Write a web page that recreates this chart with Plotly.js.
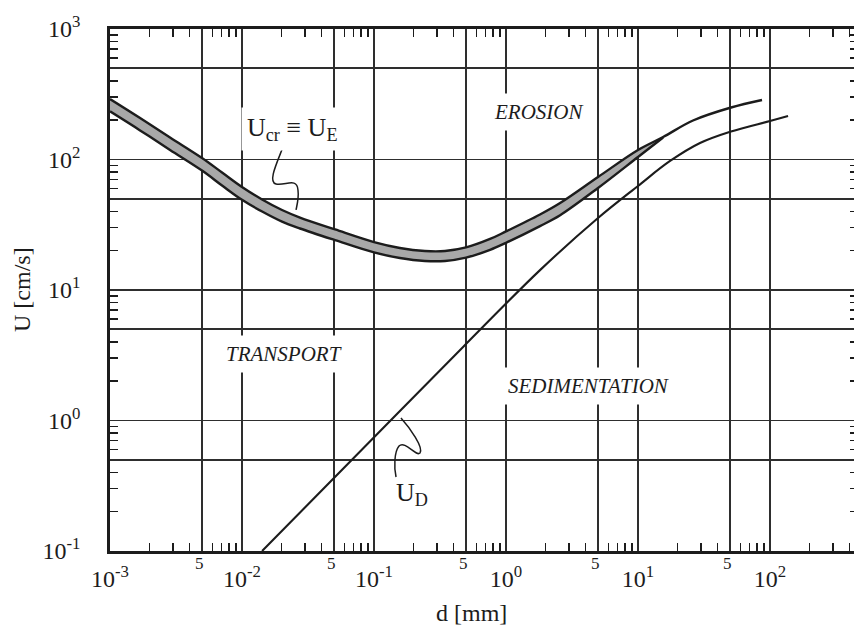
<!DOCTYPE html>
<html><head><meta charset="utf-8">
<script src="https://cdn.plot.ly/plotly-3.0.1.min.js"></script>
<style>html,body{margin:0;padding:0;overflow:hidden;background:#fff}#chart{width:858px;height:627px}</style>
</head><body><div id="chart"></div>
<script>
// Erosion band (U_cr = U_E): grain size d [mm], velocity U [cm/s]
const bandD   = [0.001, 0.00169, 0.00285, 0.00498, 0.00706, 0.01, 0.0142, 0.0201, 0.0275, 0.0507, 0.1, 0.157, 0.243, 0.345, 0.498, 0.757, 1.0, 1.81, 2.57, 4.98, 10.0, 15.5];
const bandTop = [290.8, 208.0, 147.5, 102.7, 79.5, 61.6, 49.4, 41.0, 35.9, 29.1, 23.3, 21.0, 19.9, 19.9, 21.2, 24.6, 28.1, 37.9, 46.4, 73.4, 118.3, 148.7];
const bandBot = [233.7, 167.1, 118.3, 82.2, 63.2, 49.1, 39.9, 33.4, 29.6, 24.1, 19.4, 17.6, 16.7, 16.7, 17.7, 20.3, 23.0, 30.9, 37.4, 60.5, 104.5, 147.5];
const topTailD = [26.1, 50.7, 87.0];
const topTailU = [199.0, 250.3, 285.8];
// Deposition curve U_D
const depD = [0.0142, 0.0489, 0.473, 1.81, 4.98, 10.0, 17.5, 29.5, 50.6, 100, 137];
const depU = [0.1, 0.356, 3.66, 14.2, 35.6, 62.7, 97.4, 133.8, 163.9, 197.2, 215.4];
// Tick values and labels
const xMajor = [0.001, 0.005, 0.01, 0.05, 0.1, 0.5, 1, 5, 10, 50, 100, 500];
const xMajorText = ['10<sup>-3</sup>', '', '10<sup>-2</sup>', '', '10<sup>-1</sup>', '', '10<sup>0</sup>', '', '10<sup>1</sup>', '', '10<sup>2</sup>', ''];
const xFive = [0.005, 0.05, 0.5, 5, 50];
const xFiveText = ['5', '5', '5', '5', '5'];
const yMajor = [0.1, 0.5, 1, 5, 10, 50, 100, 500, 1000];
const yMajorText = ['10<sup>-1</sup>', '', '10<sup>0</sup>', '', '10<sup>1</sup>', '', '10<sup>2</sup>', '', '10<sup>3</sup>'];
const minorMult = [2, 3, 4, 6, 7, 8, 9];

function minorTicks(e0, e1) {
  const out = [];
  for (let e = e0; e < e1; e++) minorMult.forEach(m => out.push(m * Math.pow(10, e)));
  return out;
}

const INK = '#1c1c1c';
const GRID = '#2e2e2e';
const FONT = 'Liberation Serif';

const traces = [
  {x: bandD, y: bandTop, mode: 'lines', line: {width: 0, shape: 'spline', smoothing: 1}, hoverinfo: 'skip', showlegend: false},
  {x: bandD, y: bandBot, mode: 'lines', fill: 'tonexty', fillcolor: '#a8a8a8',
   line: {color: INK, width: 2.4, shape: 'spline', smoothing: 1}, name: 'U_cr lower', showlegend: false},
  {x: bandD.concat(topTailD), y: bandTop.concat(topTailU), mode: 'lines',
   line: {color: INK, width: 2.4, shape: 'spline', smoothing: 1}, name: 'U_cr upper', showlegend: false},
  {x: depD, y: depU, mode: 'lines', line: {color: INK, width: 2.1, shape: 'spline', smoothing: 1}, name: 'U_D', showlegend: false},
  {x: [], y: [], xaxis: 'x2', yaxis: 'y', hoverinfo: 'skip', showlegend: false}
];

// plot-area pixel geometry -> paper coords for decorations
const L = 110, T = 29, W = 748, H = 522;
const px = v => (v - L) / W;
const py = v => 1 - (v - T) / H;
function path(cmds) {
  return cmds.map(c => c[0] + ' ' + c.slice(1).map(p => px(p[0]).toFixed(4) + ',' + py(p[1]).toFixed(4)).join(' ')).join(' ');
}

const xRange = [-3, -3 + W / 132];

const baseAxis = {
  type: 'log', showgrid: true, gridcolor: GRID, gridwidth: 1.7,
  showline: true, linecolor: INK, linewidth: 2.8, mirror: 'allticks',
  ticks: 'inside', ticklen: 0, zeroline: false, fixedrange: true,
  tickfont: {family: FONT, size: 24, color: INK}
};

function label(text, cx, cy, size, bg, pad) {
  const a = {text: text, xref: 'paper', yref: 'paper', x: px(cx), y: py(cy), showarrow: false,
    xanchor: 'center', yanchor: 'middle', font: {family: FONT, size: size, color: INK}};
  if (bg) { a.bgcolor = '#ffffff'; a.borderpad = pad; }
  return a;
}

const layout = {
  width: 858, height: 627,
  margin: {l: L, r: 0, t: T, b: 627 - T - H, pad: 0},
  paper_bgcolor: '#ffffff', plot_bgcolor: '#ffffff',
  showlegend: false,
  font: {family: FONT, color: INK, size: 24},
  xaxis: Object.assign({}, baseAxis, {
    range: xRange, tickmode: 'array', tickvals: xMajor, ticktext: xMajorText,
    ticklabelstandoff: 4,
    minor: {tickmode: 'array', tickvals: minorTicks(-3, 3), ticks: 'inside', ticklen: 8, tickwidth: 1.5, tickcolor: INK, showgrid: false}
  }),
  xaxis2: {
    type: 'log', overlaying: 'x', anchor: 'y', side: 'bottom', range: xRange,
    tickmode: 'array', tickvals: xFive, ticktext: xFiveText, ticks: '', showgrid: false,
    showline: false, zeroline: false, fixedrange: true, ticklabelshift: -3, ticklabelstandoff: 0,
    tickfont: {family: FONT, size: 17, color: INK}
  },
  yaxis: Object.assign({}, baseAxis, {
    range: [-1, 3], tickmode: 'array', tickvals: yMajor, ticktext: yMajorText,
    ticklabelstandoff: 22,
    minor: {tickmode: 'array', tickvals: minorTicks(-1, 3), ticks: 'inside', ticklen: 8, tickwidth: 1.5, tickcolor: INK, showgrid: false}
  }),
  annotations: [
    Object.assign(label('U [cm/s]', 22, 290, 24, false), {textangle: -90}),
    label('d [mm]', 471, 613, 24, false),
    label('<i>EROSION</i>', 538, 112, 21, true, 6),
    label('<i>TRANSPORT</i>', 284, 354, 21, true, 6),
    label('<i>SEDIMENTATION</i>', 588, 386, 21, true, 6),
    label('U<sub>cr</sub> ≡ U<sub>E</sub>', 292, 129, 26, true, 5),
    label('U<sub>D</sub>', 412, 494, 26, false)
  ],
  shapes: [
    {type: 'path', xref: 'paper', yref: 'paper', line: {color: INK, width: 1.5},
     path: path([['M', [283, 147]], ['C', [276, 165], [268, 182], [276, 184]], ['C', [285, 186], [297, 177], [298, 190]], ['C', [299, 198], [297, 205], [296, 210]]])},
    {type: 'path', xref: 'paper', yref: 'paper', line: {color: INK, width: 1.5},
     path: path([['M', [401, 418]], ['C', [410, 428], [424, 448], [420, 453]], ['C', [416, 457], [405, 440], [399, 446]], ['C', [394, 452], [394, 468], [396, 477]]])}
  ]
};

Plotly.newPlot('chart', traces, layout, {displayModeBar: false, staticPlot: true});
</script>
</body></html>
